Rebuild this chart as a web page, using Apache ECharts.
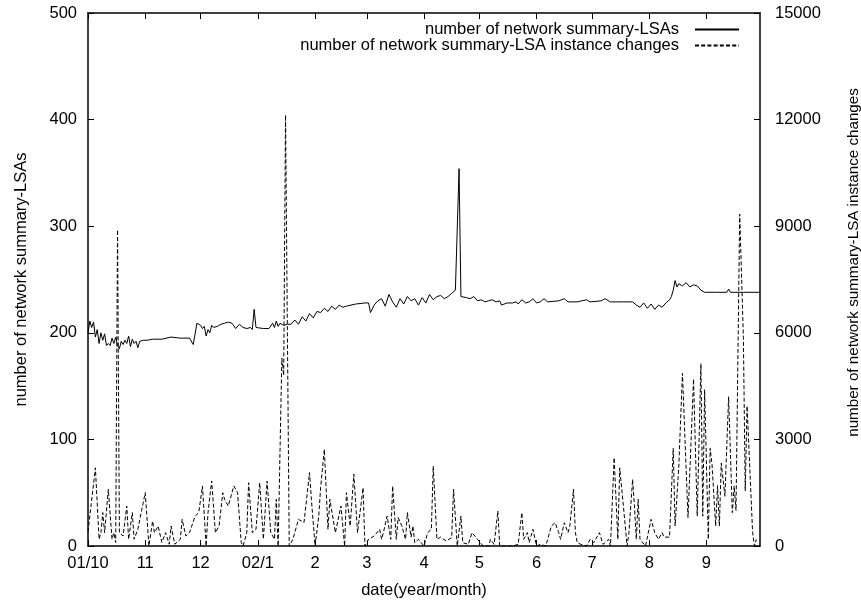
<!DOCTYPE html>
<html><head><meta charset="utf-8">
<script src="https://cdn.jsdelivr.net/npm/echarts@6/dist/echarts.min.js"></script>
<style>html,body{margin:0;padding:0;background:#fff}#c{width:861px;height:605px}</style>
</head><body><div id="c"></div>
<script>
// x values are day offsets counted from 2001-10-01
const lastDay = 364;
const tickDays = [0, 31, 61, 92, 123, 151, 182, 212, 243, 273, 304, 335];
const tickLabels = ['01/10', '11', '12', '02/1', '2', '3', '4', '5', '6', '7', '8', '9'];

const lsaDays = [0,1,2,3,4,5,6,7,8,9,10,11,12,13,14,15,16,17,18,19,20,21,22,23,24,25,26,27,28,29,30,32,35,40,45,50,55,57,59,61,62,63,64,65,66,67,68,70,72,74,76,78,80,82,84,86,88,89,90,91,92,95,98,100,101,102,103,104,106,108,110,112,114,116,118,120,122,124,126,128,130,132,134,136,138,140,145,150,152,153,155,157,159,161,163,165,167,169,171,173,175,177,179,181,183,185,187,189,191,193,195,197,199,200,201,202,203,205,207,209,211,213,215,217,219,221,223,224,225,227,230,232,233,235,237,239,241,243,245,247,249,255,258,260,265,270,272,278,280,283,290,295,297,299,301,303,305,307,309,311,313,315,316,317,318,319,320,322,324,326,328,330,332,334,340,346,347,348,355,364];
const lsaValues = [200,211,205,210,196,203,190,200,193,199,188,190,188,195,190,196,188,185,192,189,193,190,197,187,194,190,192,186,192,191,193,193,194,194,196,195,195,189,209,207,204,206,197,203,200,207,205,206,208,209,210,209,204,208,205,204,205,203,222,205,204,204,204,209,205,211,206,209,207,208,208,212,208,215,211,218,214,220,219,223,220,225,222,226,224,225,227,228,228,219,226,230,232,225,236,229,224,232,227,234,230,232,226,233,228,236,231,234,235,232,234,237,240,240,354,234,235,233,232,234,230,231,229,230,231,229,230,226,226,228,228,229,227,231,228,229,232,228,229,232,229,230,232,229,229,231,229,230,232,229,229,229,226,224,228,223,227,222,226,224,228,231,234,240,249,243,246,244,247,243,245,244,240,238,238,238,241,238,238,238];

const chgDays = [0,4,6,7,8,9,11,13,14,15,16,17,19,21,22,24,25,27,31,33,35,36,38,40,42,44,45,47,50,51,53,55,58,60,62,64,65,67,69,71,73,74,76,79,81,83,84,86,87,89,91,93,95,97,99,101,102,103,105,106,107,109,111,114,117,120,121,123,125,126,128,130,131,134,137,139,140,142,144,146,149,150,152,155,158,159,160,162,164,165,167,168,170,172,173,175,176,177,179,182,184,186,187,189,191,194,197,198,200,202,203,206,208,211,214,217,218,220,222,223,226,230,233,235,236,238,239,241,243,245,248,251,253,255,256,258,260,261,263,264,265,267,270,272,274,277,279,282,283,285,287,288,290,292,293,295,296,297,298,299,302,305,307,309,311,312,315,317,318,320,322,325,328,330,332,333,334,336,337,338,340,341,342,343,345,347,349,350,351,353,355,356,357,360,361,362];
const chgValues = [400,2200,190,375,940,375,1600,190,375,100,8900,375,280,1125,190,940,190,470,1500,0,700,375,560,100,375,50,560,50,190,750,280,375,840,940,1690,0,940,1830,375,560,1500,1313,1125,1690,1500,100,0,375,1780,375,470,1780,190,1830,375,190,1313,0,5290,4800,12130,0,190,750,660,2065,1313,0,840,1640,2720,470,1313,375,1125,0,1500,560,2020,375,1640,0,190,280,470,190,375,844,188,1688,188,800,563,188,938,250,563,94,188,0,375,470,2250,188,250,140,235,1600,0,844,94,47,375,188,0,0,188,47,985,0,0,0,47,938,188,375,94,470,0,47,0,563,656,375,188,656,375,563,1600,375,94,47,0,188,94,375,47,188,0,2486,188,2200,1126,0,375,1876,1126,188,1313,188,0,750,375,188,375,250,250,2750,563,2220,4860,800,4700,840,5130,840,4400,190,2750,2300,563,1700,563,2330,1400,4200,938,1690,1000,9340,5870,1550,3940,375,0,188];

const lsaData = lsaDays.map((d, i) => [d, lsaValues[i]]);
const chgData = chgDays.map((d, i) => [d, chgValues[i]]);
const labelFor = v => { const i = tickDays.indexOf(v); return i >= 0 ? tickLabels[i] : ''; };

const FONT = 'Liberation Sans';
const txt = { color: '#000', fontFamily: FONT, fontSize: 16.5 };
const axisLine = { show: true, onZero: false, lineStyle: { color: '#000', width: 1.5 } };
const legendCommon = { right: 121, padding: 0, align: 'right', itemWidth: 44, itemHeight: 10,
  itemStyle: { opacity: 0 }, textStyle: Object.assign({ padding: [0, 11, 0, 0] }, txt) };

const chart = echarts.init(document.getElementById('c'), null, { renderer: 'canvas' });
chart.setOption({
  animation: false,
  backgroundColor: '#fff',
  grid: { left: 88, right: 101, top: 13, bottom: 59, containLabel: false, outerBoundsMode: 'none' },
  legend: [
    Object.assign({ data: ['number of network summary-LSAs'], top: 21 }, legendCommon),
    Object.assign({ data: ['number of network summary-LSA instance changes'], top: 37 }, legendCommon)
  ],
  xAxis: [
    { type: 'value', min: 0, max: lastDay, position: 'bottom',
      name: 'date(year/month)', nameLocation: 'middle', nameGap: 36, nameTextStyle: txt,
      axisLine, splitLine: { show: false },
      axisTick: { inside: true, length: 6, lineStyle: { color: '#000' }, customValues: tickDays },
      axisLabel: Object.assign({ margin: 9, customValues: tickDays, formatter: labelFor, hideOverlap: false }, txt) },
    { type: 'value', min: 0, max: lastDay, position: 'top',
      axisLine, splitLine: { show: false },
      axisTick: { inside: true, length: 6, lineStyle: { color: '#000' }, customValues: tickDays },
      axisLabel: { show: false } }
  ],
  yAxis: [
    { type: 'value', min: 0, max: 500, interval: 100, position: 'left',
      name: 'number of network summary-LSAs', nameLocation: 'middle', nameGap: 58, nameTextStyle: txt,
      axisLine, splitLine: { show: false },
      axisTick: { inside: true, length: 6, lineStyle: { color: '#000' } },
      axisLabel: Object.assign({ margin: 11 }, txt) },
    { type: 'value', min: 0, max: 15000, interval: 3000, position: 'right',
      name: 'number of network summary-LSA instance changes', nameLocation: 'middle', nameGap: 86,
      nameTextStyle: Object.assign({}, txt, { fontSize: 15.2, padding: [0, 0, 0, 34] }),
      axisLine, splitLine: { show: false },
      axisTick: { inside: true, length: 6, lineStyle: { color: '#000' } },
      axisLabel: Object.assign({ margin: 15, formatter: v => String(v) }, txt) }
  ],
  series: [
    { name: 'number of network summary-LSAs', type: 'line', xAxisIndex: 0, yAxisIndex: 0,
      data: lsaData, symbol: 'none', lineStyle: { color: '#000', width: 1 }, itemStyle: { color: '#000' } },
    { name: 'number of network summary-LSA instance changes', type: 'line', xAxisIndex: 0, yAxisIndex: 1,
      data: chgData, symbol: 'none', lineStyle: { color: '#000', width: 1, type: [4, 2.2] }, itemStyle: { color: '#000' } }
  ]
});
</script></body></html>
